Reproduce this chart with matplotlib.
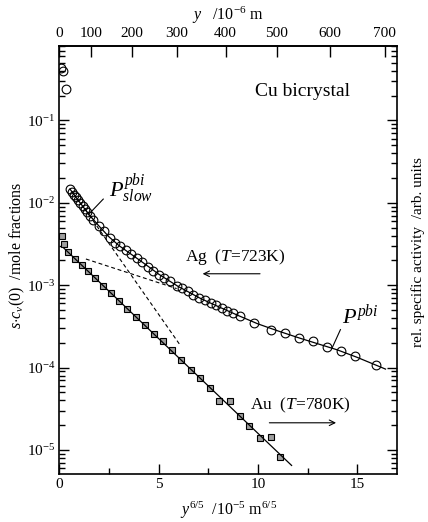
#!/usr/bin/env python3

import matplotlib

matplotlib.use("Agg")

import matplotlib.pyplot as plt
import numpy as np
from matplotlib.ticker import LogLocator, MultipleLocator, NullFormatter


# x: y^(6/5) in 1e-5 m^(6/5); values: s*c_v(0) in mole fractions
AG_X = [0.08, 0.19, 0.31,
        0.53, 0.63, 0.73, 0.83, 0.93, 1.03, 1.16, 1.28, 1.41, 1.54, 1.70,
        2.00, 2.26, 2.54, 2.79, 3.05, 3.33, 3.60, 3.89, 4.14, 4.44,
        4.72, 5.01, 5.27, 5.56, 5.90, 6.15, 6.45, 6.73, 7.04, 7.32,
        7.61, 7.88, 8.16, 8.45, 8.75, 9.08,
        9.79, 10.66, 11.35, 12.07, 12.77, 13.48, 14.18, 14.89, 15.96]
AG_Y = [0.43, 0.40, 0.24,
        0.0147, 0.0136, 0.0126, 0.0117, 0.0108, 0.0100, 0.0092, 0.0084, 0.0077, 0.0070, 0.0062,
        0.0052, 0.0045, 0.0037, 0.00325, 0.00295, 0.00264, 0.00241, 0.00214, 0.00189, 0.00166,
        0.00147, 0.00134, 0.00122, 0.00111, 0.00099, 0.00093, 0.00084, 0.00077, 0.00070, 0.00066,
        0.00061, 0.00057, 0.00053, 0.00049, 0.00046, 0.00042,
        0.00035, 0.00029, 0.00026, 0.00023, 0.00021, 0.00018, 0.00016, 0.00014, 0.000107]

AU_X = [0.11, 0.23, 0.44, 0.78, 1.12, 1.45, 1.79, 2.19, 2.58, 2.98, 3.40, 3.87, 4.30, 4.76,
        5.19, 5.65, 6.12, 6.60, 7.07, 7.57, 8.03, 8.57, 9.07, 9.57, 10.09, 10.63, 11.13]
AU_Y = [0.00395, 0.00318, 0.00250, 0.00206, 0.00174, 0.00147, 0.00122, 0.000986, 0.000811,
        0.000646, 0.000511, 0.000415, 0.000327, 0.000256, 0.000208, 0.000162, 0.000123,
        9.27e-5, 7.50e-5, 5.68e-5, 3.91e-5, 3.98e-5, 2.57e-5, 1.94e-5, 1.41e-5, 1.44e-5, 8.28e-6]

# fitted curves
AG_FIT_X = [0.53, 1.0, 1.5, 2.0, 2.5, 3.0, 3.5, 4.0, 4.5, 5.0, 5.5, 6.0, 6.5, 7.0, 7.5,
            8.0, 9.0, 10.0, 11.0, 12.0, 13.0, 14.0, 15.0, 16.42]
AG_FIT_Y = [0.01466, 0.01028, 0.00713, 0.00519, 0.00385, 0.00302, 0.00248, 0.00204, 0.00167,
            0.00136, 0.00114, 0.000959, 0.000828, 0.000711, 0.000624, 0.000550, 0.000429,
            0.000339, 0.000279, 0.000232, 0.000195, 0.000164, 0.000133, 0.000096]
AG_SLOW_X = [1.33, 5.90]
AG_SLOW_Y = [0.00208, 0.00091]
AG_FAST_X = [1.30, 6.06]
AG_FAST_Y = [0.00828, 0.000190]
AU_FIT_X = [0.20, 11.69]
AU_FIT_Y = [0.00285, 6.5e-6]

TOP_TICKS = [0, 100, 200, 300, 400, 500, 600, 700]

SERIF = "Liberation Serif"


def to_depth(x):
    x = np.clip(np.asarray(x, dtype=float), 0.0, None)
    return (x * 1e-5) ** (5.0 / 6.0) * 1e6


def to_x(depth):
    depth = np.clip(np.asarray(depth, dtype=float), 0.0, None)
    return (depth * 1e-6) ** 1.2 / 1e-5


def setup_fonts():
    plt.rcParams["font.family"] = SERIF
    plt.rcParams["mathtext.fontset"] = "custom"
    plt.rcParams["mathtext.rm"] = SERIF
    plt.rcParams["mathtext.it"] = SERIF + ":italic"
    plt.rcParams["mathtext.bf"] = SERIF + ":bold"


def main():
    setup_fonts()
    fig = plt.figure(figsize=(4.28, 5.22), dpi=100)
    ax = fig.add_axes([0.139, 0.092, 0.7886, 0.8199])

    ax.set_yscale("log")
    ax.set_xlim(0, 17.0)
    ax.set_ylim(5.12e-6, 0.80)

    ax.plot(AG_FIT_X, AG_FIT_Y, color="black", lw=0.9, zorder=2)
    ax.plot(AG_X, AG_Y, "o", ms=6.3, mfc="none", mec="black", mew=0.8, zorder=3)
    ax.plot(AG_SLOW_X, AG_SLOW_Y, color="black", lw=0.8, dashes=(3.5, 2.5))
    ax.plot(AG_FAST_X, AG_FAST_Y, color="black", lw=0.8, dashes=(3.5, 2.5))

    ax.plot(AU_X, AU_Y, "s", ms=5.0, mfc="0.62", mec="black", mew=0.8, zorder=3)
    ax.plot(AU_FIT_X, AU_FIT_Y, color="black", lw=0.9, zorder=4)

    # annotations
    ax.text(0.579, 0.884, "Cu bicrystal", transform=ax.transAxes, fontsize=14)
    ax.text(2.49, 0.0118, r"$P^{pbi}_{slow}$", fontsize=16)
    ax.plot([1.449, 2.204], [0.00716, 0.0111], color="black", lw=0.8)
    ax.text(14.22, 3.41e-4, r"$P^{pbi}$", fontsize=16)
    ax.plot([13.73, 14.15], [1.73e-4, 2.89e-4], color="black", lw=0.8)

    ax.text(6.32, 0.00198, r"Ag  ($T$=723K)", fontsize=12.5)
    ax.annotate("", xy=(7.07, 0.001377), xytext=(10.24, 0.001377),
                arrowprops=dict(arrowstyle="->", color="black", lw=0.8))
    ax.text(9.62, 3.10e-5, r"Au  ($T$=780K)", fontsize=12.5)
    ax.annotate("", xy=(14.07, 2.14e-5), xytext=(10.43, 2.14e-5),
                arrowprops=dict(arrowstyle="->", color="black", lw=0.8))

    # ticks
    ax.xaxis.set_major_locator(MultipleLocator(5))
    ax.xaxis.set_minor_locator(MultipleLocator(2.5))
    ax.yaxis.set_major_locator(LogLocator(base=10, numticks=12))
    ax.yaxis.set_minor_locator(LogLocator(base=10, subs=np.arange(2, 10), numticks=12))
    ax.yaxis.set_minor_formatter(NullFormatter())
    ax.tick_params(which="both", direction="in", top=False, right=True, labelsize=11)
    ax.tick_params(which="major", length=7, width=1.0)
    ax.tick_params(which="minor", length=4, width=1.0)
    ax.tick_params(axis="x", pad=3)
    ax.tick_params(axis="y", pad=3)

    for spine in ax.spines.values():
        spine.set_linewidth(1.2)

    sec = ax.secondary_xaxis("top", functions=(to_depth, to_x))
    sec.set_xticks(TOP_TICKS)
    sec.tick_params(direction="in", length=8, width=1.0, labelsize=11, pad=4)
    sec.spines["top"].set_linewidth(1.2)

    # axis labels
    fig.text(229 / 428, 1 - 515 / 522, r"$y^{6/5}$  /10$^{-5}$ m$^{6/5}$",
             ha="center", va="baseline", fontsize=11.5)
    fig.text(228 / 428, 1 - 20 / 522, r"$y$   /10$^{-6}$ m",
             ha="center", va="baseline", fontsize=11.5)
    fig.text(17 / 428, 1 - 255 / 522, r"$s{\cdot}c_{v}(0)$  /mole fractions",
             rotation=90, ha="center", va="center", fontsize=11.5)
    fig.text(418 / 428, 1 - 252 / 522, "rel. specific activity  /arb. units",
             rotation=90, ha="center", va="center", fontsize=11)

    fig.savefig("out.png", dpi=100)
    plt.close(fig)


if __name__ == "__main__":
    main()
